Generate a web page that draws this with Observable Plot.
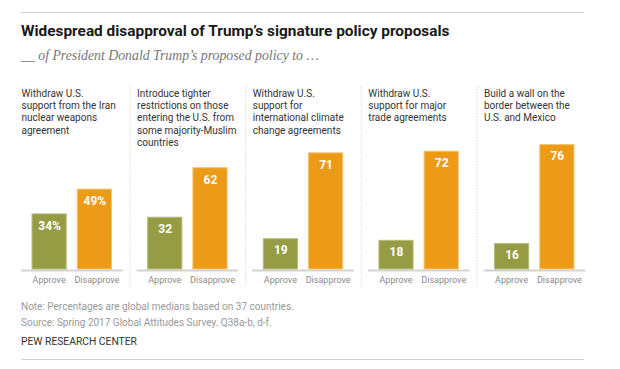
<!DOCTYPE html>
<html><head><meta charset="utf-8">
<script src="https://cdn.jsdelivr.net/npm/d3@7"></script>
<script src="https://cdn.jsdelivr.net/npm/@observablehq/plot@0.6"></script>
<style>
body{margin:0;background:#fff;width:620px;height:369px;position:relative;overflow:hidden}
.abs{position:absolute;left:21px;white-space:nowrap}
.rule{position:absolute;left:21px;width:563px;height:0;border-top:1.5px solid #d3d3d3}
#title{top:22px;font:bold 15.4px "Liberation Sans Narrow","Roboto",sans-serif;color:#1a1a1a;line-height:18px}
#subtitle{top:48px;font:italic 13.8px "Liberation Serif",serif;color:#777;line-height:16px}
#note{top:299px;font:10px Roboto,sans-serif;color:#999;line-height:15.5px}
#pew{top:334px;font:10.3px Roboto,sans-serif;color:#333;line-height:16px}
#chart{position:absolute;left:0;top:80px}
</style></head><body>
<div class="rule" style="top:12px"></div>
<div id="title" class="abs">Widespread disapproval of Trump’s signature policy proposals</div>
<div id="subtitle" class="abs">__ of President Donald Trump’s proposed policy to …</div>
<div id="chart"></div>
<div id="note" class="abs">Note: Percentages are global medians based on 37 countries.<br>Source: Spring 2017 Global Attitudes Survey. Q38a-b, d-f.</div>
<div id="pew" class="abs">PEW RESEARCH CENTER</div>
<div class="rule" style="top:359px"></div>
<script>
const policyKeys = ["iran", "muslim", "climate", "trade", "wall"];
const policyLabels = [
  "Withdraw U.S.\nsupport from the Iran\nnuclear weapons\nagreement",
  "Introduce tighter\nrestrictions on those\nentering the U.S. from\nsome majority-Muslim\ncountries",
  "Withdraw U.S.\nsupport for\ninternational climate\nchange agreements",
  "Withdraw U.S.\nsupport for major\ntrade agreements",
  "Build a wall on the\nborder between the\nU.S. and Mexico"
];
const responses = ["Approve", "Disapprove"];
const approve = [34, 32, 19, 18, 16];
const disapprove = [49, 62, 71, 72, 76];

const colors = ["#959c43", "#eb9b17"];
const borders = ["#b8bd7e", "#f4c36e"];

const rows = policyKeys.flatMap((p, i) => [
  {policy: p, response: "Approve", value: approve[i], label: i === 0 ? approve[i] + "%" : String(approve[i])},
  {policy: p, response: "Disapprove", value: disapprove[i], label: i === 0 ? disapprove[i] + "%" : String(disapprove[i])}
]);
const labels = policyKeys.map((p, i) => ({policy: p, text: policyLabels[i]}));

const W = 620, H = 215, ML = 21, MR = 35, MT = 24.5, MB = 25.5;
const fxPadInner = 0.122, xPadInner = 0.222, xPadOuter = 0.233;
const fxS = d3.scaleBand(policyKeys, [ML, W - MR]).paddingInner(fxPadInner).paddingOuter(0);
const xS = d3.scaleBand(responses, [0, fxS.bandwidth()]).paddingInner(xPadInner).paddingOuter(xPadOuter);
const sepDx = fxS.bandwidth() + (fxS.step() - fxS.bandwidth()) / 2 - (xS("Disapprove") + xS.bandwidth() / 2);

const respText = (resp, dx) => Plot.text(rows.filter(d => d.response === resp), {
  fx: "policy", x: "response", text: "response", frameAnchor: "bottom", dy: 13, dx, fill: "#8a8a8a", fontSize: 9
});

const chart = Plot.plot({
  width: W, height: H,
  marginLeft: ML, marginRight: MR, marginTop: MT, marginBottom: MB,
  fx: {domain: policyKeys, paddingInner: fxPadInner, paddingOuter: 0, axis: null, round: false, label: null},
  x: {domain: responses, paddingInner: xPadInner, paddingOuter: xPadOuter, axis: null, round: false, label: null},
  y: {domain: [0, 100], axis: null},
  color: {domain: responses, range: colors},
  style: {fontFamily: "Roboto, sans-serif", background: "transparent"},
  marks: [
    Plot.ruleX(policyKeys.slice(0, 4), {fx: d => d, x: () => "Disapprove", dx: sepDx, y1: () => 111, y2: () => -10.5, stroke: "#c8c8c8", strokeDasharray: "1,2", strokeWidth: 1}),
    Plot.ruleY([0], {stroke: "#d3d3d3", strokeWidth: 2, dy: 0.5}),
    Plot.barY(rows, {fx: "policy", x: "response", y: "value", fill: "response", stroke: d => borders[responses.indexOf(d.response)], strokeWidth: 1, inset: 0.5}),
    Plot.text(rows, {fx: "policy", x: "response", y: "value", text: "label", dy: 12, fill: "white", fontWeight: "bold", fontSize: 12}),
    respText("Approve", -0.5),
    respText("Disapprove", 2),
    Plot.text(labels, {fx: "policy", text: "text", frameAnchor: "top-left", textAnchor: "start", lineAnchor: "top", dy: -17, fontSize: 10, lineHeight: 1.23, fill: "#333"})
  ]
});
document.getElementById("chart").appendChild(chart);
</script>
</body></html>
